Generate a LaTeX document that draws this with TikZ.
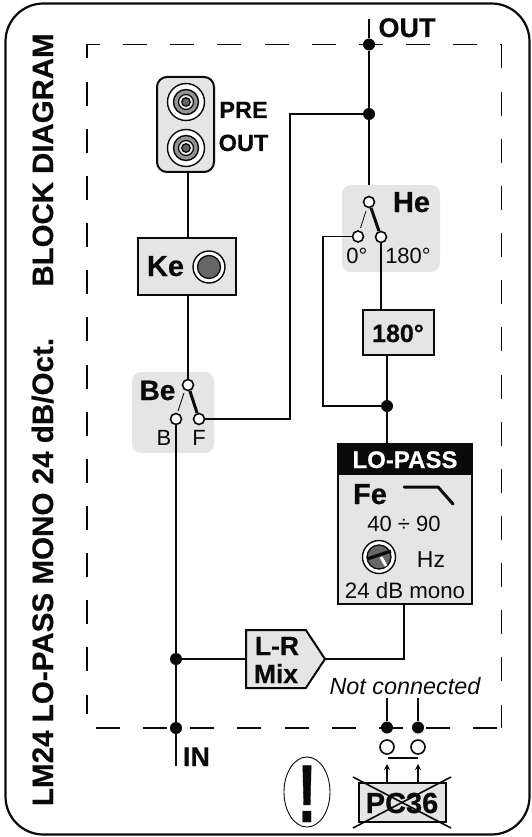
\documentclass[tikz,border=0pt]{standalone}
\usepackage{fontspec}
\usepackage{graphicx}
\setmainfont[BoldFeatures={FakeBold=0.5}]{Liberation Sans}
\usetikzlibrary{arrows.meta,positioning,shapes,calc}
\definecolor{panelgray}{HTML}{E5E5E5}
\definecolor{knobgray}{HTML}{666666}
\definecolor{ink}{HTML}{0A0A0A}
\newcommand{\pxfont}[1]{\fontsize{#1}{#1}\selectfont}
\tikzset{
  wire/.style={draw=ink,line width=1.7pt},
  panel/.style={fill=panelgray,rounded corners=9pt,inner sep=0pt,outer sep=0pt},
  graybox/.style={draw=ink,fill=panelgray,line width=2pt,inner sep=0pt,outer sep=0pt},
  termin/.style={draw=ink,fill=white,circle,line width=1.6pt,inner sep=0pt,minimum size=11pt},
  junct/.style={fill=ink,circle,inner sep=0pt,minimum size=12pt},
  boldlbl/.style={anchor=base,inner sep=0pt,text=ink,font=\bfseries},
  thinlbl/.style={anchor=base,inner sep=0pt,text=ink},
  dashline/.style={draw=ink,line width=1.3pt,dash pattern=on 24pt off 23.15pt},
  swarm/.style={draw=ink,line width=3pt},
  swthin/.style={draw=ink,line width=0.8pt},
  sigarr/.style={-{Stealth[length=6pt,width=6pt]},draw=ink,line width=1.6pt}
}
\begin{document}
\begin{tikzpicture}[x=1pt,y=-1pt]
  \useasboundingbox (0,0) rectangle (531,837);
  \node[draw=ink,line width=2.2pt,rounded corners=38pt,inner sep=0pt,outer sep=0pt,minimum width=524pt,minimum height=831pt] (frame) at (267.5,419) {};
  \draw[dashline,dash phase=11pt] (87,44.5)--(501.5,44.5);
  \draw[dashline,dash phase=10pt] (87,44.5)--(87,714);
  \draw[dashline] (501.5,44.5)--(501.5,728);
  \draw[dashline] (96,728)--(497,728);
  \node[boldlbl,rotate=90,font=\bfseries\pxfont{29.4}] (title1) at (53,160) {BLOCK DIAGRAM};
  \node[boldlbl,rotate=90,font=\bfseries\pxfont{29.6}] (title2) at (53,572) {LM24 LO-PASS MONO 24 dB/Oct.};

  \node[graybox,rounded corners=10pt,minimum width=57pt,minimum height=95pt] (preout) at (185.5,124.5) {};
  \foreach \cy in {102,148} {
    \draw[fill=white,draw=ink,line width=1.4pt] (186,\cy) circle[radius=18.5];
    \draw[fill=knobgray!70,draw=ink,line width=1.4pt] (186,\cy) circle[radius=12.5];
    \draw[fill=panelgray,draw=ink,line width=1.2pt] (186,\cy) circle[radius=7.5];
    \draw[fill=knobgray,draw=ink,line width=1.3pt] (186,\cy) circle[radius=4.2];
  }
  \node[boldlbl,font=\bfseries\pxfont{23.5}] (pretxt) at (243.5,118) {PRE};
  \node[boldlbl,font=\bfseries\pxfont{23.5}] (outtxt) at (243.5,151) {OUT};

  \node[graybox,minimum width=98pt,minimum height=57pt] (ke) at (187,266.5) {};
  \node[boldlbl,font=\bfseries\pxfont{29}] (ketxt) at (165.5,276) {Ke};
  \draw[fill=white,draw=ink,line width=1.4pt] (209,267) circle[radius=16];
  \draw[fill=knobgray,draw=ink,line width=1.3pt] (209,267) circle[radius=11.5];

  \node[panel,minimum width=82pt,minimum height=81pt] (bepanel) at (173,412.5) {};
  \node[termin] (beC) at (188,385) {};
  \node[termin] (beB) at (176,419) {};
  \node[termin] (beF) at (199,419) {};
  \node[boldlbl,font=\bfseries\pxfont{28}] (betxt) at (157.5,400) {Be};
  \node[thinlbl,font=\pxfont{22}] (btxt) at (164,445) {B};
  \node[thinlbl,font=\pxfont{22}] (ftxt) at (199,445) {F};
  \draw[swarm] (beC)--(beF);
  \draw[swthin] (184,393)--(178,411);

  \node[panel,minimum width=98pt,minimum height=87pt] (hepanel) at (391,228.5) {};
  \node[termin] (heC) at (369,202) {};
  \node[termin] (heL) at (358,236.5) {};
  \node[termin] (heR) at (381,237) {};
  \node[boldlbl,font=\bfseries\pxfont{29}] (hetxt) at (411.5,212) {He};
  \node[thinlbl,font=\pxfont{22}] (zerotxt) at (357,263) {0°};
  \node[thinlbl,font=\pxfont{22}] (pitxt) at (408,263) {180°};
  \draw[swarm] (heC)--(heR);
  \draw[swthin] (366,211)--(360.5,228);

  \node[graybox,minimum width=71pt,minimum height=45pt] (inv) at (398.5,332.5) {};
  \node[boldlbl,font=\bfseries\pxfont{25}] (invtxt) at (398,342) {180°};

  \node[graybox,minimum width=134pt,minimum height=160pt] (lopass) at (405,524) {};
  \node[fill=ink,inner sep=0pt,outer sep=0pt,minimum width=134pt,minimum height=31pt] (lohead) at (405,459.5) {};
  \node[boldlbl,text=white,font=\bfseries\pxfont{24}] (lotxt) at (405,468) {LO-PASS};
  \node[boldlbl,font=\bfseries\pxfont{29}] (fetxt) at (370,504) {Fe};
  \draw[draw=ink,line width=3pt,line cap=round,line join=round] (404,487)--(438,487)--(453,504);
  \node[thinlbl,font=\pxfont{22}] (rangetxt) at (404,531) {40 ÷ 90};
  \draw[fill=white,draw=ink,line width=1.4pt] (379,557) circle[radius=16.5];
  \draw[fill=knobgray,draw=ink,line width=1.3pt] (379,557) circle[radius=12];
  \draw[draw=white,line width=3pt] (381,557)--(386,566);
  \draw[draw=ink,line width=3.2pt] (367,559)--(391,551);
  \node[thinlbl,font=\pxfont{23}] (hztxt) at (431,567) {Hz};
  \node[thinlbl,font=\pxfont{22.3}] (slopetxt) at (405,598) {24 dB mono};

  \node[graybox,signal,signal to=east,signal pointer angle=113,anchor=west,minimum width=79pt,minimum height=58pt] (mix) at (246,659) {};
  \node[boldlbl,font=\bfseries\pxfont{26.4}] (lrtxt) at (277,655) {L-R};
  \node[boldlbl,font=\bfseries\pxfont{26.4}] (mixtxt) at (276,683) {Mix};

  \node[junct] (jout) at (369,44.5) {};
  \node[junct] (jsplit) at (369,114) {};
  \node[junct] (jloop) at (387,406) {};
  \node[junct] (jmix) at (176,659) {};
  \node[junct] (jin) at (176,728) {};
  \node[junct] (jnc1) at (387,727.5) {};
  \node[junct] (jnc2) at (418,727.5) {};
  \coordinate (outtop) at (369,19);
  \coordinate (intail) at (176,766);
  \coordinate (nc1top) at (387,698);
  \coordinate (nc2top) at (418,698);
  \node[boldlbl,font=\bfseries\pxfont{27}] (outlbl) at (407,37) {OUT};
  \node[boldlbl,font=\bfseries\pxfont{27}] (inlbl) at (196.5,766) {IN};
  \node[thinlbl,font=\itshape\pxfont{23.4}] (nclbl) at (405,694) {Not connected};

  \draw[wire] (outtop)--(jout);
  \draw[wire] (jout)--(jsplit);
  \draw[wire] (jsplit)--(hepanel.north -| jsplit);
  \draw[wire] (jsplit)-|(290,300)|-(beF);
  \draw[wire] (heL)-|(323,300)|-(jloop);
  \draw[wire] (heR)--(heR |- inv.north);
  \draw[wire] (jloop |- inv.south)--(jloop);
  \draw[wire] (jloop)--(jloop |- lopass.north);
  \draw[wire] (preout.south -| beC)--(ke.north -| beC);
  \draw[wire] (ke.south -| beC)--(beC);
  \draw[wire] (beB)--(jmix);
  \draw[wire] (jmix)--(jin);
  \draw[wire] (jin)--(intail);
  \draw[wire] (jmix)--(mix.west |- jmix);
  \draw[wire] (404,604)|-(mix.east);
  \draw[wire] (nc1top)--(jnc1);
  \draw[wire] (nc2top)--(jnc2);

  \node[termin,minimum size=14pt] (pin1) at (387,747) {};
  \node[termin,minimum size=14pt] (pin2) at (418,747) {};
  \coordinate (barl) at (388,758);
  \coordinate (barr) at (418,758);
  \draw[wire] (barl)--(barr);
  \node[graybox,minimum width=87pt,minimum height=39pt] (pc) at (402.5,802.5) {};
  \draw[swthin,line width=1.6pt] (353,777)--(451,828);
  \draw[swthin,line width=1.6pt] (451,777)--(353,828);
  \node[boldlbl,font=\bfseries\pxfont{29}] (pctxt) at (402,813) {PC36};
  \coordinate (arr1) at (387,764);
  \coordinate (arr2) at (418,764);
  \draw[sigarr] (pc.north -| arr1)--(arr1);
  \draw[sigarr] (pc.north -| arr2)--(arr2);

  \node[draw=ink,ellipse,line width=0.9pt,inner sep=0pt,minimum width=46pt,minimum height=70pt] (warn) at (307,792) {};
  \node[boldlbl,font=\bfseries\pxfont{82}] (warntxt) at (307,822) {\scalebox{0.72}[1]{!}};
\end{tikzpicture}
\end{document}
